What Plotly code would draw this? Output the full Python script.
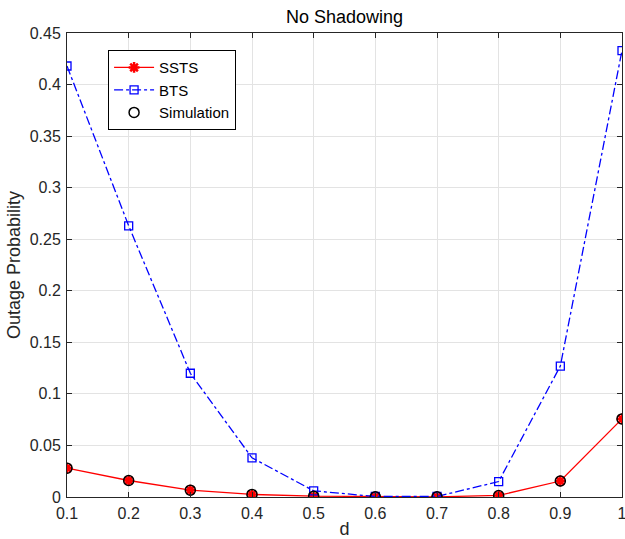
import plotly.graph_objects as go

d = [0.1, 0.2, 0.3, 0.4, 0.5, 0.6, 0.7, 0.8, 0.9, 1.0]
ssts = [0.028, 0.016, 0.0066, 0.0025, 0.0008, 0.0002, 0.0002, 0.0015, 0.0155, 0.0757]
bts = [0.418, 0.263, 0.120, 0.038, 0.006, 0.0005, 0.0005, 0.015, 0.127, 0.433]
sim = [0.028, 0.016, 0.0066, 0.0025, 0.0008, 0.0002, 0.0002, 0.0015, 0.0155, 0.0757]
xticklabels = ["0.1", "0.2", "0.3", "0.4", "0.5", "0.6", "0.7", "0.8", "0.9", "1"]

fig = go.Figure()
fig.add_trace(go.Scatter(x=d, y=ssts, name="SSTS", mode="lines+markers",
                         line=dict(color="#ff0000", width=1.3),
                         marker=dict(symbol="asterisk-open", size=9,
                                     line=dict(color="#ff0000", width=2.5))))
fig.add_trace(go.Scatter(x=d, y=bts, name="BTS", mode="lines+markers",
                         line=dict(color="#0000ff", width=1.3, dash="dashdot"),
                         marker=dict(symbol="square-open", size=8, color="#0000ff",
                                     line=dict(color="#0000ff", width=1.3))))
fig.add_trace(go.Scatter(x=d, y=sim, name="Simulation", mode="markers",
                         marker=dict(symbol="circle-open", size=10, color="#000000",
                                     line=dict(color="#000000", width=1.5))))

axis_common = dict(showline=True, linecolor="#262626", linewidth=1, mirror="ticks",
                   ticks="inside", ticklen=5, tickcolor="#262626", automargin=False,
                   showgrid=True, gridcolor="#e3e3e3", gridwidth=1, zeroline=False,
                   tickfont=dict(size=16, color="#262626"))

fig.update_layout(
    width=625, height=539,
    margin=dict(l=67, r=3, t=33, b=42),
    paper_bgcolor="white", plot_bgcolor="white",
    font=dict(family="Liberation Sans, Arial, sans-serif", color="#262626", size=16),
    title=dict(text="No Shadowing", x=0.5, xanchor="center", xref="paper",
               y=1 - 17 / 539, yanchor="middle", font=dict(size=18, color="#000000")),
    xaxis=dict(range=[0.1, 1.0], tickvals=d, ticktext=xticklabels,
               ticklabeloverflow="allow", ticklabelstandoff=2,
               title=dict(text="d", font=dict(size=18), standoff=1), **axis_common),
    yaxis=dict(range=[0, 0.45], dtick=0.05, ticklabelstandoff=2,
               title=dict(text="Outage Probability", font=dict(size=18), standoff=4), **axis_common),
    legend=dict(x=0.074, y=0.963, xanchor="left", yanchor="top",
                bordercolor="#000000", borderwidth=1, bgcolor="white",
                font=dict(size=15, color="#000000"), tracegroupgap=0, itemwidth=40),
    showlegend=True,
)

fig.write_html("out.html")
